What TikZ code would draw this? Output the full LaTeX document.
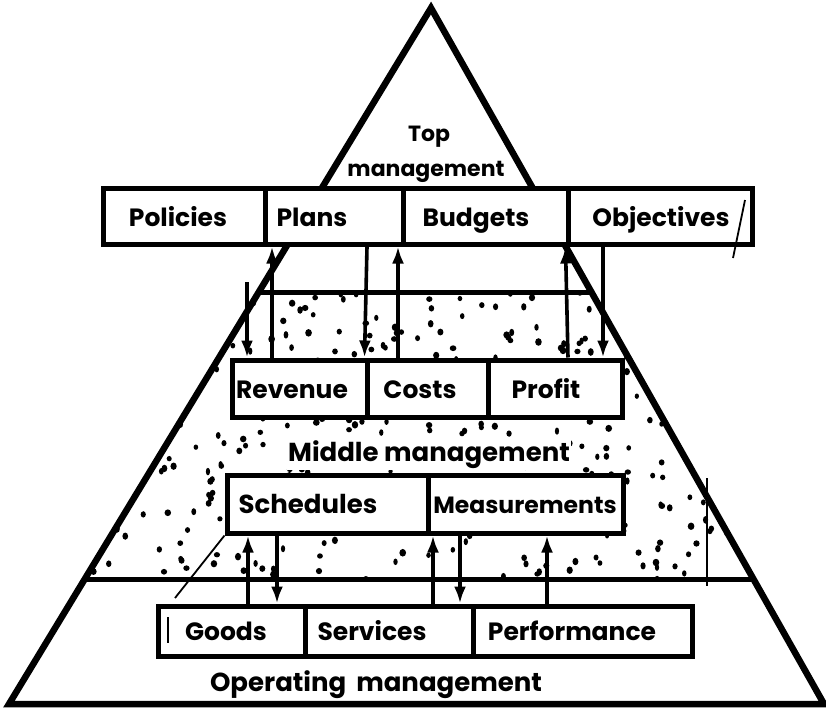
\documentclass[tikz,border=0pt]{standalone}
\usepackage{fontspec}
\setmainfont{Poppins}
\usetikzlibrary{arrows.meta}
\begin{document}
\begin{tikzpicture}[x=1pt,y=-1pt,
  cell/.style={draw, line width=5pt, fill=white, inner sep=0pt},
  lbl/.style={font=\fontsize{25}{27}\selectfont\bfseries, inner sep=0pt, anchor=base},
  arr/.style={line width=3.6pt, -{Latex[length=17pt,width=12pt]}},
  outline/.style={line width=6.5pt, line join=miter},
  divline/.style={line width=5pt},
  thinline/.style={line width=1.8pt},
  dot/.style={fill=black}]
\useasboundingbox (0,0) rectangle (826,713);

% stipple of the middle level
\begin{scope}
  \clip (259,292) -- (592,292) -- (755,579) -- (85,579) -- cycle;
  \pgfmathsetseed{11}
  \foreach \i in {1,...,430}{
    \pgfmathsetmacro\dx{85+rnd*670}
    \pgfmathsetmacro\dy{292+rnd*287}
    \pgfmathsetmacro\dr{2.1+rnd*1.3}
    \pgfmathsetmacro\dq{2.6+rnd*1.2}
    \fill[dot] (\dx,\dy) ellipse[x radius=\dr pt, y radius=\dq pt];
  }
\end{scope}

% pyramid outline
\coordinate (apex) at (431,8);
\coordinate (bl) at (9,704);
\coordinate (br) at (824,704);
\draw[outline] (apex) -- (bl) -- (br) -- cycle;
\coordinate (ml1) at (259,292); \coordinate (mr1) at (592,292);
\coordinate (ml2) at (85,579);  \coordinate (mr2) at (755,579);
\draw[divline] (ml1) -- (mr1);
\draw[divline] (ml2) -- (mr2);

% top row
\node[cell, minimum width=162pt, minimum height=56pt] (policies) at (184,216) {};
\node[cell, minimum width=138pt, minimum height=56pt] (plans) at (334,216) {};
\node[cell, minimum width=165pt, minimum height=56pt] (budgets) at (485.5,216) {};
\node[cell, minimum width=184pt, minimum height=56pt] (objectives) at (660,216) {};
% middle row
\node[cell, minimum width=135pt, minimum height=57pt] (revenue) at (299.5,388.5) {};
\node[cell, minimum width=121pt, minimum height=57pt] (costs) at (427.5,388.5) {};
\node[cell, minimum width=134pt, minimum height=57pt] (profit) at (555,388.5) {};
% schedules row
\node[cell, minimum width=201pt, minimum height=58pt] (schedules) at (327.5,504) {};
\node[cell, minimum width=195pt, minimum height=58pt] (measurements) at (525.5,504) {};
% operating row
\node[cell, minimum width=147pt, minimum height=50pt] (goods) at (231.5,631) {};
\node[cell, minimum width=168pt, minimum height=50pt] (services) at (389,631) {};
\node[cell, minimum width=219pt, minimum height=50pt] (performance) at (582.5,631) {};

% labels
\node[lbl] (tpolicies) at (178,226) {Policies};
\node[lbl] (tplans) at (312,226) {Plans};
\node[lbl] (tbudgets) at (476,226) {Budgets};
\node[lbl] (tobjectives) at (661,226) {Objectives};
\node[lbl] (trevenue) at (292,398) {Revenue};
\node[lbl] (tcosts) at (420,398) {Costs};
\node[lbl] (tprofit) at (546,398) {Profit};
\node[lbl, font=\fontsize{26}{28}\selectfont\bfseries] (tschedules) at (308,513) {Schedules};
\node[lbl, font=\fontsize{23.5}{26}\selectfont\bfseries] (tmeasurements) at (525,513) {Measurements};
\node[lbl] (tgoods) at (226,640) {Goods};
\node[lbl] (tservices) at (372,640) {Services};
\node[lbl] (tperformance) at (572,640) {Performance};
\node[lbl, font=\fontsize{22}{24}\selectfont\bfseries] (ttop) at (429,141) {Top};
\node[lbl, font=\fontsize{22}{24}\selectfont\bfseries] (tmgmt) at (426,176) {management};
\node[lbl, font=\fontsize{26}{28}\selectfont\bfseries, fill=white, inner sep=1.5pt] (tmiddle) at (429,461) {Middle management};
\node[lbl, font=\fontsize{26}{28}\selectfont\bfseries] (toperating) at (376,691) {Operating\hspace{10pt}management};

% arrows between top row and middle row
\coordinate (c1) at (247,282);
\draw[arr] ([xshift=-27.5pt]revenue.north) -- ([xshift=-62pt]plans.south);
\draw[arr] (c1) -- ([xshift=-52.5pt]revenue.north);
\draw[arr] ([xshift=33pt]plans.south) -- (costs.north west);
\draw[arr] ([xshift=-29.5pt]costs.north) -- ([xshift=64pt]plans.south);
\draw[arr] ([xshift=13pt]profit.north) -- (objectives.south west);
\draw[arr] ([xshift=-57pt]objectives.south) -- ([xshift=48pt]profit.north);

% arrows between schedules row and operating row
\draw[arr] ([xshift=16.5pt]goods.north) -- ([xshift=-79.5pt]schedules.south);
\draw[arr] ([xshift=-50.5pt]schedules.south) -- ([xshift=45.5pt]goods.north);
\draw[arr] ([xshift=44pt]services.north) -- ([xshift=-92.5pt]measurements.south);
\draw[arr] ([xshift=-65.5pt]measurements.south) -- ([xshift=71pt]services.north);
\draw[arr] ([xshift=-35.5pt]performance.north) -- ([xshift=21.5pt]measurements.south);

% stray pen marks
\coordinate (s1) at (745,200); \coordinate (s2) at (733,258);
\draw[thinline] (s1) -- (s2);
\coordinate (s3) at (175,598);
\draw[thinline] (schedules.south west) -- (s3);
\coordinate (s4) at (707,478); \coordinate (s5) at (707,586);
\draw[line width=2.6pt] (s4) -- (s5);
\coordinate (s6) at (168,617); \coordinate (s7) at (168,643);
\draw[thinline] (s6) -- (s7);
\end{tikzpicture}
\end{document}
